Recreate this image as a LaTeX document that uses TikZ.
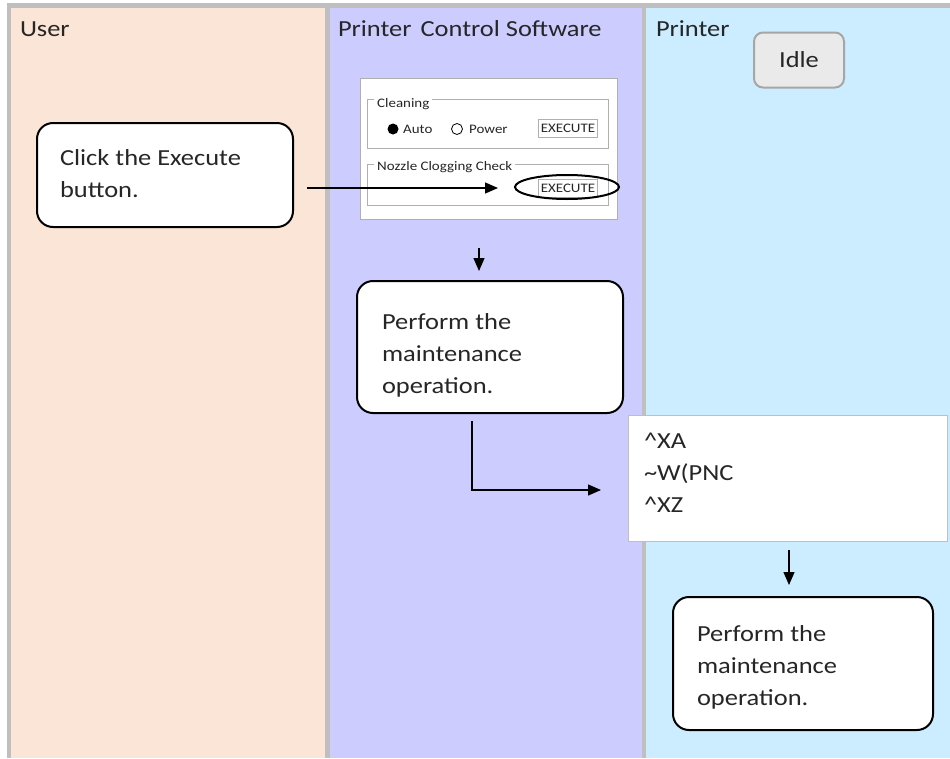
\documentclass[tikz,border=0pt]{standalone}
\usepackage{fontspec}
\setmainfont{Carlito}[FakeStretch=1.15]
\usetikzlibrary{arrows.meta,shapes.geometric}
\definecolor{userc}{HTML}{FBE5D6}
\definecolor{pcsc}{HTML}{CCCCFF}
\definecolor{prc}{HTML}{CCECFF}
\definecolor{laneg}{HTML}{BFBFBF}
\definecolor{txt}{HTML}{262626}
\definecolor{idlef}{HTML}{EAEAEA}
\definecolor{idled}{HTML}{A6A6A6}
\definecolor{grpc}{HTML}{B0B0B0}
\begin{document}
\begin{tikzpicture}[x=1pt,y=-1pt,
  big/.style={font=\fontsize{23}{32}\selectfont, text=txt},
  small/.style={font=\fontsize{13}{15}\selectfont, text=txt},
  txtl/.style={anchor=base west, inner sep=0pt, outer sep=0pt, big, align=left},
  stxt/.style={anchor=base west, inner sep=0pt, small},
  stepbox/.style={draw=black, line width=2pt, fill=white, rounded corners=16pt,
    anchor=north west, inner sep=0pt, outer sep=0pt},
  cmdbox/.style={draw=laneg, line width=0.8pt, fill=white, anchor=north west,
    inner sep=0pt, outer sep=0pt},
  grp/.style={draw=grpc, line width=0.8pt},
  btn/.style={draw=grpc, line width=0.8pt, fill=white, small, inner sep=1pt,
    minimum width=59pt, minimum height=18pt},
  arr/.style={-{Triangle[length=13pt,width=11pt]}, line width=1.3pt, black}
]
\useasboundingbox (0,0) rectangle (950,758);
% background and lanes
\fill[white] (0,0) rectangle (950,758);
\fill[laneg] (7,3) rectangle (950,758);
\fill[userc] (11,8) rectangle (325,758);
\fill[pcsc] (330,8) rectangle (642,758);
\fill[prc] (646,8) rectangle (950,758);
% lane titles
\node[txtl] (hu) at (20,36) {User};
\node[txtl] (hp) at (338,36) {Printer\hspace{9pt}Control Software};
\node[txtl] (hr) at (656,36) {Printer};
% idle state
\node[draw=idled, line width=2pt, fill=idlef, rounded corners=9pt,
  minimum width=90pt, minimum height=55pt, inner sep=0pt, big] (idle) at (799,60) {Idle};
% user step
\node[stepbox, minimum width=256pt, minimum height=104pt] (click) at (37,123) {};
\node[txtl] (clickt) at (60,197) {Click the Execute\\button.};
% software screenshot panel
\node[draw=grpc, line width=0.8pt, fill=white, anchor=north west, inner sep=0pt,
  minimum width=257pt, minimum height=141pt] (panel) at (360,78) {};
\draw[grp] (367,99) rectangle (608,148);
\node[stxt, fill=white, inner xsep=3pt, inner ysep=2pt] (cleanl) at (374,107) {Cleaning};
\fill[black] (393,129) circle (5.5);
\node[stxt] (auto) at (403,133) {Auto};
\draw[black, line width=0.8pt] (457,129) circle (5.5);
\node[stxt] (power) at (469,133) {Power};
\node[btn] (exec1) at (568,128) {EXECUTE};
\draw[grp] (367,164) rectangle (608,205);
\node[stxt, fill=white, inner xsep=3pt, inner ysep=2pt] (nozl) at (374,170) {Nozzle Clogging Check};
\node[btn] (exec2) at (568,188) {EXECUTE};
\node[draw=black, line width=2pt, ellipse, minimum width=104pt, minimum height=24pt,
  inner sep=0pt] (ring) at (567,187) {};
% software step
\node[stepbox, minimum width=266pt, minimum height=132pt] (pm1) at (357,281) {};
\node[txtl] (pm1t) at (382,393) {Perform the\\maintenance\\operation.};
% command box
\node[cmdbox, minimum width=319pt, minimum height=126pt] (cmd) at (628,415) {};
\node[txtl] (cmdt) at (644,512) {\textasciicircum XA\\\textasciitilde W(PNC\\\textasciicircum XZ};
% printer step
\node[stepbox, minimum width=260pt, minimum height=133pt] (pm2) at (673,597) {};
\node[txtl] (pm2t) at (697,705) {Perform the\\maintenance\\operation.};
% connectors
\coordinate (a1s) at (307,188);
\coordinate (a1e) at (498,188);
\draw[arr] (a1s) -- (a1e);
\coordinate (a2s) at (479,248);
\coordinate (a2e) at (479,271);
\draw[arr] (a2s) -- (a2e);
\coordinate (a3s) at (472,421);
\coordinate (a3e) at (601,490);
\draw[arr] (a3s) |- (a3e);
\coordinate (a4s) at (789,550);
\coordinate (a4e) at (789,585);
\draw[arr] (a4s) -- (a4e);
\end{tikzpicture}
\end{document}
